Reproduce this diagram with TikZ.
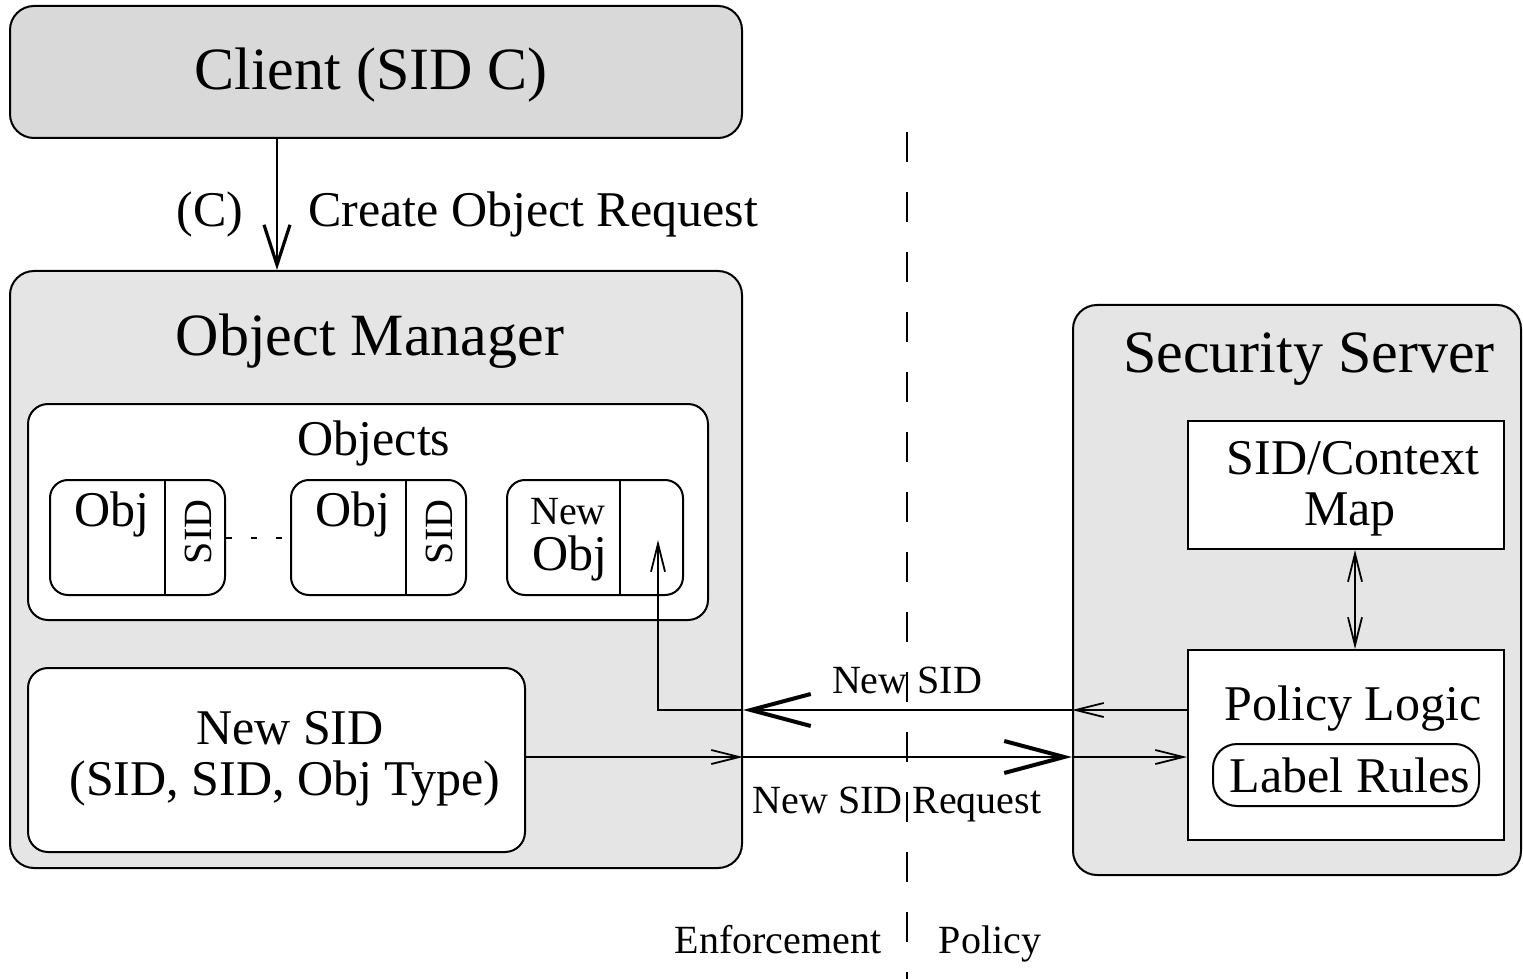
\documentclass[tikz,border=0pt]{standalone}
\usepackage{fontspec}
\setmainfont{Liberation Serif}
\usetikzlibrary{arrows.meta}
\definecolor{gclient}{HTML}{D9D9D9}
\definecolor{gbox}{HTML}{E5E5E5}
\newcommand{\fbig}{\fontsize{30pt}{36pt}\selectfont}
\newcommand{\fmid}{\fontsize{25pt}{30pt}\selectfont}
\newcommand{\fsml}{\fontsize{20pt}{24pt}\selectfont}
\tikzset{
  smalltip/.tip={Straight Barb[length=14pt,width=7pt,line width=0.9pt]},
  bigtip/.tip={Straight Barb[length=30pt,width=16pt,line width=2pt]},
  vtip/.tip={Straight Barb[length=20pt,width=13pt,line width=1.6pt]},
}
\begin{document}
\begin{tikzpicture}[x=0.5pt,y=-0.5pt,
  box/.style={draw, line width=1pt, rounded corners=12pt, inner sep=0pt},
  objbox/.style={draw, line width=1pt, fill=white, rounded corners=9pt, inner sep=0pt},
  sqbox/.style={draw, line width=1pt, fill=white, inner sep=0pt},
  txt/.style={anchor=base, inner sep=0pt},
  conn/.style={line width=1pt},
  divider/.style={line width=1pt},
  sep/.style={line width=1pt, dash pattern=on 15pt off 15pt},
  dots/.style={line width=1pt, dash pattern=on 3pt off 9.5pt},
]
\useasboundingbox (0,0) rectangle (1523,979);

% main boxes
\node[box, fill=gclient, minimum width=366pt, minimum height=66pt] (client) at (376,72) {};
\node[box, fill=gbox, minimum width=366pt, minimum height=298.5pt] (om) at (376,569.5) {};
\node[box, fill=gbox, minimum width=224pt, minimum height=285pt] (ss) at (1297,590) {};

% inner boxes
\node[box, fill=white, rounded corners=10pt, minimum width=340pt, minimum height=108pt] (objs) at (368,512) {};
\node[objbox, minimum width=87.5pt, minimum height=57.5pt] (o1) at (137.5,537.5) {};
\node[objbox, minimum width=87.5pt, minimum height=57.5pt] (o2) at (378.5,537.5) {};
\node[objbox, minimum width=88pt, minimum height=57.5pt] (o3) at (595,537.5) {};
\node[box, fill=white, rounded corners=10pt, minimum width=248.5pt, minimum height=92pt] (nsid) at (276.5,760) {};
\node[sqbox, minimum width=158pt, minimum height=64pt] (map) at (1346,485) {};
\node[sqbox, minimum width=158pt, minimum height=95pt] (pl) at (1346,745) {};
\node[box, fill=white, rounded corners=12pt, minimum width=133pt, minimum height=31pt] (lr) at (1346,775) {};

% dividers
\coordinate (d1) at (165,0);
\coordinate (d2) at (406,0);
\coordinate (d3) at (620,0);
\draw[divider] (o1.north -| d1) -- (o1.south -| d1);
\draw[divider] (o2.north -| d2) -- (o2.south -| d2);
\draw[divider] (o3.north -| d3) -- (o3.south -| d3);

% texts
\node[txt] (tclient) at (371,90) {\fbig Client (SID C)};
\node[txt] (tom) at (370,356) {\fbig Object Manager};
\node[txt] (tss) at (1309,372) {\fbig Security Server};
\node[txt] (tc) at (210,227) {\fmid (C)};
\node[txt] (tcreate) at (533,227) {\fmid Create Object Request};
\node[txt] (tobjs) at (374,455) {\fmid Objects};
\node[txt] (tobj1) at (112,526) {\fmid Obj};
\node[txt] (tobj2) at (353,526) {\fmid Obj};
\node[txt, rotate=90] (tsid1) at (211,532) {\fsml SID};
\node[txt, rotate=90] (tsid2) at (452,532) {\fsml SID};
\node[txt] (tnew) at (568,524) {\fsml New};
\node[txt] (tnobj) at (570,570) {\fmid Obj};
\node[txt] (tns1) at (290,744) {\fmid New SID};
\node[txt] (tns2) at (285,795) {\fmid (SID, SID, Obj Type)};
\node[txt] (tmap1) at (1353,474) {\fmid SID/Context};
\node[txt] (tmap2) at (1350,525) {\fmid Map};
\node[txt] (tpl) at (1353,720) {\fmid Policy Logic};
\node[txt] (tlr) at (1350,792) {\fmid Label Rules};
\node[txt] (tnewsid) at (907,693) {\fsml New SID};
\node[txt] (treq) at (897,813) {\fsml New SID Request};
\node[txt] (tenf) at (778,953) {\fsml Enforcement};
\node[txt] (tpol) at (990,953) {\fsml Policy};

% separator
\coordinate (dtop) at (907,132);
\coordinate (dbot) at (907,979);
\draw[sep] (dtop) -- (dbot);

% connectors
\coordinate (cx) at (277,0);
\draw[conn, -vtip] (client.south -| cx) -- (om.north -| cx);

\coordinate (r1) at (0,710);
\coordinate (r2) at (0,757);
\coordinate (vx) at (658,0);
\coordinate (nin) at (658,540);
\draw[conn, -smalltip] (pl.west |- r1) -- (ss.west |- r1);
\draw[conn, -bigtip] (ss.west |- r1) -- (om.east |- r1);
\draw[conn, -smalltip] (om.east |- r1) -- (vx |- r1) -- (nin);

\draw[conn, -smalltip] (nsid.east |- r2) -- (om.east |- r2);
\draw[conn, -bigtip] (om.east |- r2) -- (ss.west |- r2);
\draw[conn, -smalltip] (ss.west |- r2) -- (pl.west |- r2);

\coordinate (mx) at (1355,0);
\draw[conn, smalltip-smalltip] (map.south -| mx) -- (pl.north -| mx);

\draw[dots] (o1.east) -- (o2.west);
\end{tikzpicture}
\end{document}
